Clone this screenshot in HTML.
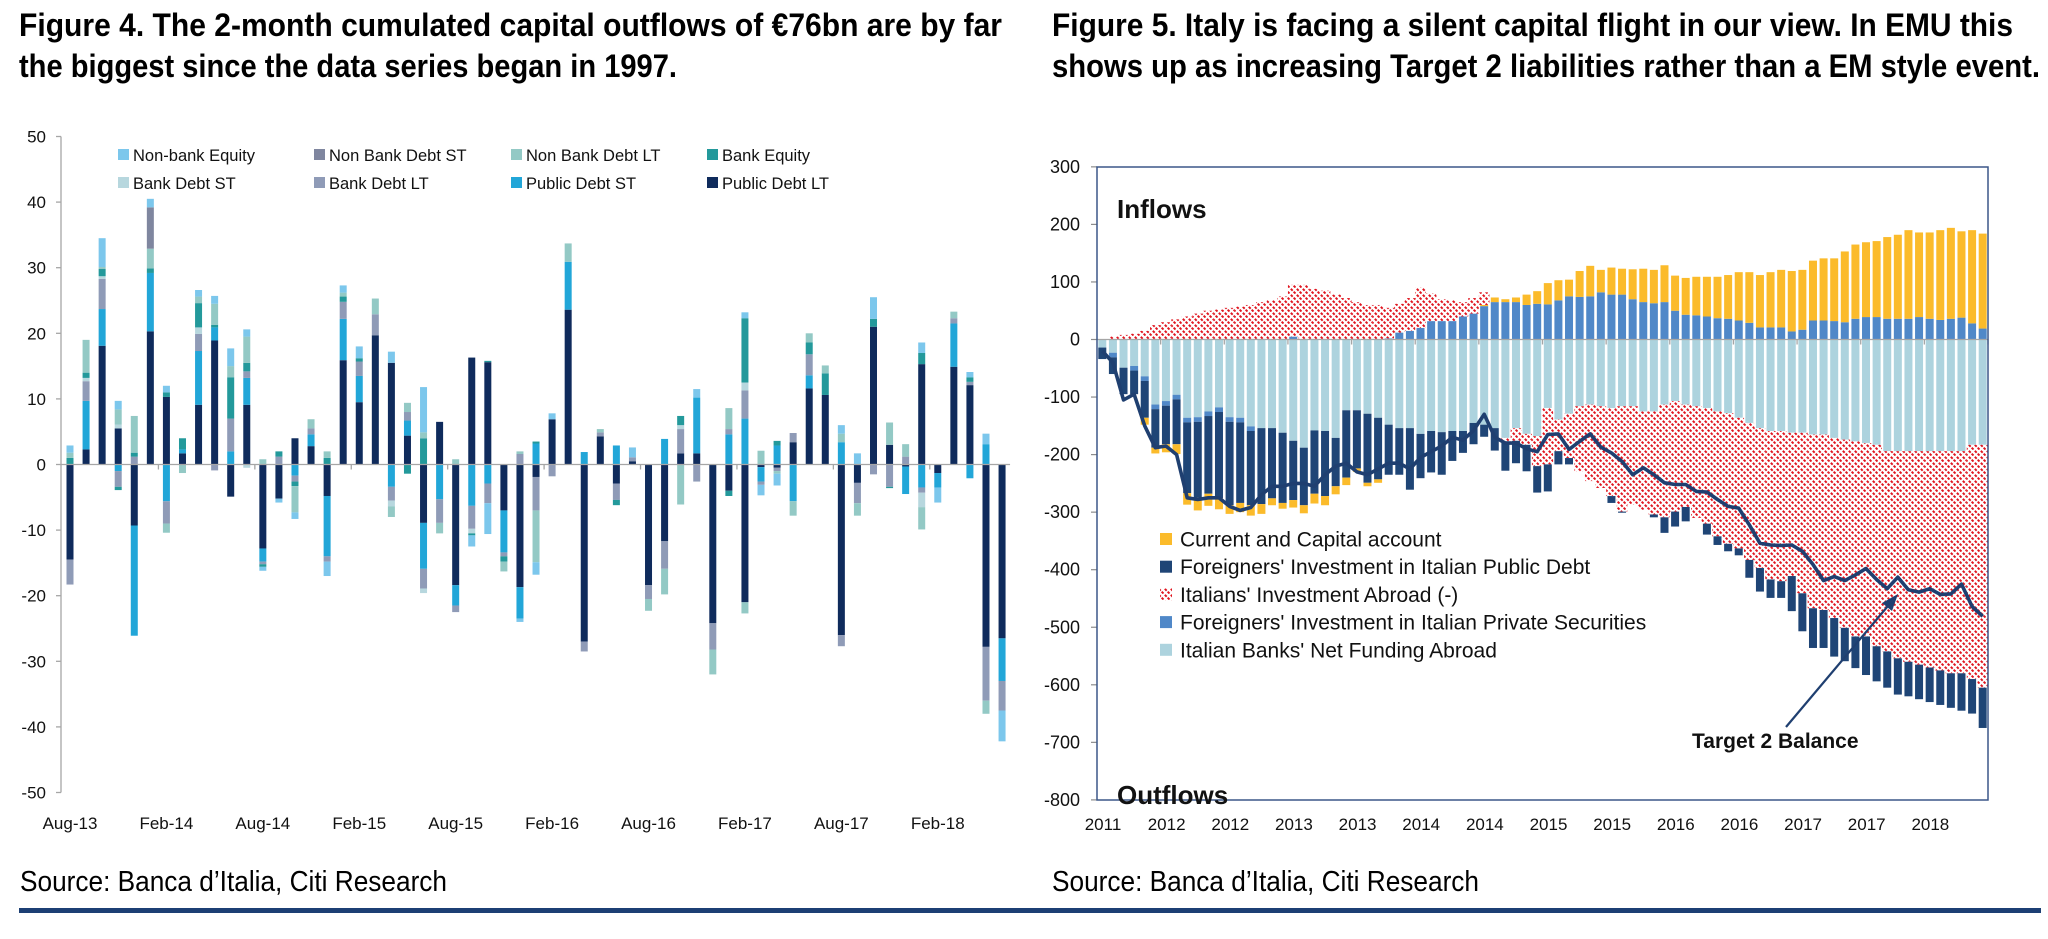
<!DOCTYPE html>
<html><head><meta charset="utf-8"><title>Italy capital flows</title>
<style>
html,body{margin:0;padding:0;background:#fff;}
svg{display:block;font-family:"Liberation Sans",Arial,sans-serif;}
</style></head>
<body>
<svg id="root" width="2048" height="939" viewBox="0 0 2048 939" xmlns="http://www.w3.org/2000/svg">
<defs>
<pattern id="hatch" patternUnits="userSpaceOnUse" width="6" height="6">
<rect width="6" height="6" fill="#fff"/>
<path d="M-2,-2 L8,8" stroke="#e0151f" stroke-width="2" stroke-dasharray="2.6 1.4"/>
</pattern>
</defs>
<rect width="2048" height="939" fill="#fff"/>
<text x="19" y="36" font-size="32" font-weight="bold" textLength="983" lengthAdjust="spacingAndGlyphs">Figure 4. The 2-month cumulated capital outflows of €76bn are by far</text>
<text x="19" y="77" font-size="32" font-weight="bold" textLength="658" lengthAdjust="spacingAndGlyphs">the biggest since the data series began in 1997.</text>
<text x="1052" y="36" font-size="32" font-weight="bold" textLength="961" lengthAdjust="spacingAndGlyphs">Figure 5. Italy is facing a silent capital flight in our view.  In EMU this</text>
<text x="1052" y="77" font-size="32" font-weight="bold" textLength="988" lengthAdjust="spacingAndGlyphs">shows up as increasing Target 2 liabilities rather than a EM style event.</text>
<text x="20" y="891" font-size="29" textLength="427" lengthAdjust="spacingAndGlyphs">Source: Banca d’Italia, Citi Research</text>
<text x="1052" y="891" font-size="29" textLength="427" lengthAdjust="spacingAndGlyphs">Source: Banca d’Italia, Citi Research</text>
<rect x="19" y="908" width="2022" height="5" fill="#1c3f74"/>
<g id="left"></g>
<g id="right"></g>
</svg>
<script>
// ---------- LEFT CHART DATA ----------
const leftTickLabels = ["Aug-13","Feb-14","Aug-14","Feb-15","Aug-15","Feb-16","Aug-16","Feb-17","Aug-17","Feb-18"];
const leftYTicks = [50,40,30,20,10,0,-10,-20,-30,-40,-50];
const publicDebtLT = [-14.5,2.3,18.1,5.5,-9.3,20.3,10.3,1.7,9.1,18.9,-4.9,9.1,-12.8,-5.2,4,2.8,-4.8,15.9,9.5,19.7,15.5,4.4,-8.9,6.5,-18.4,16.3,15.6,-7,-18.7,-1.9,6.9,23.6,-27,4.3,-2.9,0.5,-18.4,-11.7,1.7,1.7,-24.2,-4,-21,-0.4,-0.5,3.4,11.6,10.6,-26,-2.8,21,3,-0.3,15.3,-1.3,14.9,12.1,-27.8,-26.5];
const publicDebtST = [0,7.4,5.6,-1,-16.8,8.9,-5.6,0.6,8.2,2,2,4.1,-2,0,-1.7,1.8,-9.2,6.3,4,0,-3.4,2.3,-7,-5.3,-3.1,-6.3,-2.9,-6.4,-4.8,3.2,0,7.3,1.9,0,2.9,0,0,3.9,0,8.5,0,4.6,7,-2.2,2.9,-5.6,2,0,3.4,0,0,0,-4.2,-3.5,-2.2,6.6,-2.1,3.1,-6.5];
const bankDebtLT = [-3.8,3,4.6,-2.4,1.2,0,-3.4,0,2.6,-0.9,5,1,-0.4,1.2,-0.9,0.9,-0.8,2.6,2.2,3.2,-2.1,1.3,-3,-3.6,-1,-3.5,-3,-0.6,1.6,-5.1,-1.8,0,-1.5,0.6,-2.5,0.6,-2.1,-4.2,3.7,-2.6,-4,0.8,4.3,-0.5,-0.5,1.4,3.2,0,-1.7,-3.1,-1.5,-3.4,1.2,-0.8,0,0.8,0.5,-8.2,-4.5];
const bankDebtST = [0,0.5,0.4,0.6,0,0,0,0,1,0,0,-0.5,0,0,0,0,0,0,0,0,-0.9,0,-0.7,0,0,-0.7,0,0,0,0,0,0,0,0,0,0,0,0,0.6,0,0,0,1.2,0,0,0,0,0,0,0,0,0,0,-2.2,0,0,0,0,0];
const bankEquity = [1,0.8,1.1,-0.5,0.6,0.7,0.7,1.7,3.7,0.4,6.3,1.3,-0.4,0.8,-0.7,0,1,0.8,0.5,0,0,-1.4,4,0,0,-0.3,0.2,-0.8,0,0.3,0,0,0,0,-0.8,0,0,0,1.4,0,0,-0.8,9.8,0,0.7,0,1.8,3.3,0,0,1.2,-0.2,0,1.7,0,0,0.7,0,0];
const nonBankDebtLT = [0.8,5,0.3,2.3,5.6,3,-1.4,-1.3,1,3.2,1.7,4,0.8,0,-4,1.4,1,0.6,0,2.4,-1.6,1.4,0.9,-1.6,0.8,0,0,-1.5,0.4,-7.9,0,2.8,0,0.5,0,0,-1.8,-3.9,-6.1,0,-3.8,3.2,-1.7,2.1,-0.4,-2.2,1.4,1.2,1.3,-1.9,0,3.4,1.9,-3.4,0,1,0,-2,0];
const nonBankDebtST = [0,0,0,0,0,6.3,0,0,0,0,0,0,0,0,0,0,0,0,0,0,0,0,0,0,0,0,0,0,0,0,0,0,0,0,0,0,0,0,0,0,0,0,0,0,0,0,0,0,0,0,0,0,0,0,0,0,0,0,0];
const nonBankEquity = [1.1,0,4.4,1.3,0,1.3,1,0,1,1.2,2.7,1.1,-0.6,-0.6,-1,0,-2.2,1.1,1.8,0,1.7,0,6.9,0,0,-1.7,-4.7,0,-0.5,-1.9,0.9,0,0,0,0,1.5,0,0,0,1.3,0,0,0.9,-1.6,-1.8,0,0,0,1.3,1.7,3.3,0,0,1.6,-2.3,0,0.8,1.6,-4.7];

// ---------- RIGHT CHART DATA ----------
const rightTickLabels = ["2011","2012","2012","2013","2013","2014","2014","2015","2015","2016","2016","2017","2017","2018"];
const rightYTicks = [300,200,100,0,-100,-200,-300,-400,-500,-600,-700,-800];
const banksFunding = [-14,-23,-49,-46,-64,-113,-107,-96,-136,-135,-125,-118,-135,-136,-151,-154,-154,-162,-176,-188,-158,-159,-171,-123,-123,-129,-136,-148,-154,-154,-164,-159,-161,-159,-159,-145,-148,-154,-171,-154,-164,-168,
 -119,-139,-129,-116,-113,-116,-119,-116,-116,-125,-125,-113,-107,-113,-116,-119,-125,-128,-136,-145,-154,-159,-159,-162,-162,-165,-165,-171,-174,-177,-180,-183,-194,-194,-194,-194,-194,-194,-194,-194,-183,-183];
const privateSec = [0,-8,0,-8,-8,-8,-8,-8,-8,-8,-8,-8,-8,-8,-8,0,0,0,5,0,0,0,0,0,0,0,0,2,12,15,20,32,32,32,40,45,58,65,65,65,60,62,
 61,68,75,74,75,82,78,78,70,65,63,65,50,43,42,40,37,36,33,29,21,21,21,14,17,33,33,32,30,36,39,39,36,36,36,39,36,34,36,38,28,19];
const italiansAbroad = [0,5,8,10,15,25,30,35,40,45,50,52,55,57,60,65,68,75,90,95,88,85,78,72,65,60,60,53,50,57,70,48,38,36,25,27,22,0,-6,-22,-19,-52,
 -98,-55,-77,-113,-133,-142,-153,-183,-171,-171,-179,-196,-192,-178,-194,-201,-217,-227,-227,-238,-243,-258,-261,-249,-279,-302,-305,-313,-327,-339,-336,-350,-348,-360,-366,-371,-376,-381,-386,-386,-407,-422];
const publicDebtForeign = [-20,-29,-46,-41,-64,-67,-67,-78,-123,-132,-135,-150,-145,-140,-129,-132,-122,-122,-103,-100,-110,-113,-84,-117,-101,-120,-107,-87,-81,-107,-77,-72,-74,-52,-38,-37,-21,-39,-51,-39,-46,-46,
 -47,-23,-11,0,0,0,-12,-2,0,0,-5,-27,-26,-25,0,-19,-15,-13,-12,-31,-41,-32,-29,-61,-66,-69,-66,-67,-58,-55,-67,-61,-63,-63,-60,-60,-60,-60,-60,-65,-60,-70];
const currentAccount = [0,0,0,0,-12,-10,-14,-17,-20,-22,-21,-19,-15,-16,-18,-17,-12,-10,-13,-14,-17,-16,-14,-13,-6,-6,-6,0,0,0,0,0,0,0,0,0,2,8,5,8,18,22,
 37,35,29,45,53,39,47,45,52,58,58,64,61,64,67,69,72,76,84,88,91,96,100,105,104,104,108,109,123,129,130,132,142,146,154,147,150,156,158,150,162,165];
const target2 = [-20,-40,-105,-95,-150,-188,-185,-200,-275,-278,-275,-275,-290,-297,-292,-270,-255,-255,-250,-250,-255,-235,-220,-215,-230,-235,-225,-215,-215,-225,-205,-195,-185,-170,-175,-158,-130,-170,-180,-180,-190,-195,
 -165,-164,-191,-177,-164,-187,-197,-212,-235,-223,-235,-249,-252,-252,-264,-265,-278,-290,-293,-322,-354,-357,-358,-357,-368,-391,-419,-412,-419,-409,-398,-417,-433,-413,-435,-439,-433,-443,-442,-425,-464,-481];

const NS = "http://www.w3.org/2000/svg";
function mk(tag, attrs, parent){ const e=document.createElementNS(NS,tag); for(const k in attrs) e.setAttribute(k,attrs[k]); parent.appendChild(e); return e; }

// ---------- LEFT CHART ----------
(function(){
 const g=document.getElementById('left');
 const x0=70, step=16.07, bw=7;
 const yL=v=>464.5 - v*6.56;
 const xL=i=>x0+step*i;
 const leg=[["Non-bank Equity","#7cc7ec",118,155],["Non Bank Debt ST","#7f869f",314,155],["Non Bank Debt LT","#93c9c5",511,155],["Bank Equity","#23999b",707,155],
  ["Bank Debt ST","#b7d7de",118,183],["Bank Debt LT","#8f9bb7",314,183],["Public Debt  ST","#22a6d8",511,183],["Public Debt  LT","#0f2b5c",707,183]];
 leg.forEach(l=>{
  const r=mk('rect',{x:l[2],y:l[3]-6,width:11,height:11,fill:l[1]},g);
  
  
  const t=mk('text',{x:l[2]+15,y:l[3]+6,'font-size':16.5,fill:'#111'},g); t.textContent=l[0];
  
  
 });
 const ax=mk('line',{x1:61,y1:yL(50),x2:61,y2:yL(-50),stroke:'#a6a6a6','stroke-width':1.3},g);
 
 
 leftYTicks.forEach(v=>{
  const tk=mk('line',{x1:56,y1:yL(v),x2:61,y2:yL(v),stroke:'#a6a6a6','stroke-width':1.3},g);
  
  
  const t=mk('text',{x:46,y:yL(v)+6,'font-size':17,'text-anchor':'end',fill:'#111'},g); t.textContent=v;
  
  
 });
 const series=[[publicDebtLT,"#0f2b5c"],[publicDebtST,"#22a6d8"],[bankDebtLT,"#8f9bb7"],[bankDebtST,"#b7d7de"],[bankEquity,"#23999b"],[nonBankDebtLT,"#93c9c5"],[nonBankDebtST,"#7f869f"],[nonBankEquity,"#7cc7ec"]];
 const n=publicDebtLT.length;
 for(let i=0;i<n;i++){
  let pos=0,neg=0;
  series.forEach(s=>{
   const v=s[0][i]; if(!v) return;
   let a,b; if(v>0){a=pos;b=pos+v;pos=b;} else {a=neg;b=neg+v;neg=b;}
   const y1=yL(Math.max(a,b)), y2=yL(Math.min(a,b));
   const r=mk('rect',{x:xL(i)-bw/2,y:y1,width:bw,height:Math.max(0.5,y2-y1),fill:s[1]},g);
   
   
  });
 }
 const zl=mk('line',{x1:61,y1:yL(0),x2:xL(n-1)+8,y2:yL(0),stroke:'#a6a6a6','stroke-width':1.3},g);
 
 
 leftTickLabels.forEach((lab,k)=>{
  const xt=xL(6*k)-8;
  if(k>0){ const tk=mk('line',{x1:xt,y1:yL(0),x2:xt,y2:yL(0)+5,stroke:'#a6a6a6','stroke-width':1.3},g);
   
    }
  const t=mk('text',{x:xL(6*k),y:829,'font-size':17,'text-anchor':'middle',fill:'#111'},g); t.textContent=lab;
  
  
 });
})();

// ---------- RIGHT CHART ----------
(function(){
 const g=document.getElementById('right');
 const L=1097,R=1988,T=167,B=800;
 const step=(R-L)/84, bw=8;
 const xR=i=>L+step*(i+0.5);
 const yR=v=>339.5 - v*0.5755;
 rightYTicks.forEach(v=>{
  const tk=mk('line',{x1:1091,y1:yR(v),x2:L,y2:yR(v),stroke:'#8c8c8c','stroke-width':1.2},g);
  
  
  const t=mk('text',{x:1080,y:yR(v)+6,'font-size':18,'text-anchor':'end',fill:'#111'},g); t.textContent=v;
  
  
 });
 const n=target2.length;
 const posOrder=[[privateSec,"#5088c8"],[currentAccount,"#fbbb2b"],[italiansAbroad,"url(#hatch)"]];
 const negOrder=[[banksFunding,"#add3de"],[privateSec,"#5088c8"],[italiansAbroad,"url(#hatch)"],[publicDebtForeign,"#1f4576"],[currentAccount,"#fbbb2b"]];
 for(let i=0;i<n;i++){
  let pos=0,neg=0;
  posOrder.forEach(s=>{ const v=s[0][i]; if(!(v>0)) return;
   const isHatch=s[1].indexOf('hatch')>=0;
   const r=mk('rect',{x:xR(i)-(isHatch?step/2:bw/2),y:yR(pos+v),width:isHatch?step:bw,height:v*0.5755,fill:s[1]},g);
   
   
   pos+=v; });
  negOrder.forEach(s=>{ const v=s[0][i]; if(!(v<0)) return;
   const isHatch=s[1].indexOf('hatch')>=0;
   const r=mk('rect',{x:xR(i)-(isHatch?step/2:bw/2),y:yR(neg),width:isHatch?step:bw,height:-v*0.5755,fill:s[1]},g);
   
   
   neg+=v; });
 }
 const zl=mk('line',{x1:L,y1:yR(0),x2:R,y2:yR(0),stroke:'#a6a6a6','stroke-width':1.3},g);
 
 
 rightTickLabels.forEach((lab,k)=>{
  const xt=L+step*6*(k+1);
  const tk=mk('line',{x1:xt,y1:yR(0),x2:xt,y2:yR(0)+5,stroke:'#a6a6a6','stroke-width':1.3},g);
  
  
  const t=mk('text',{x:L+step*6*k+6,y:830,'font-size':17,'text-anchor':'middle',fill:'#111'},g); t.textContent=lab;
  
  
 });
 const pts=target2.map((v,i)=>xR(i).toFixed(1)+','+yR(v).toFixed(1)).join(' ');
 const pl=mk('polyline',{points:pts,fill:'none',stroke:'#1f3f70','stroke-width':3.6,'stroke-linejoin':'round'},g);
 
 
 const bd=mk('rect',{x:L,y:T,width:R-L,height:B-T,fill:'none',stroke:'#3b5788','stroke-width':1.5},g);
 
 
 const t1=mk('text',{x:1117,y:218,'font-size':26,'font-weight':'bold',fill:'#111'},g); t1.textContent='Inflows';
 
 
 const t2=mk('text',{x:1117,y:804,'font-size':26,'font-weight':'bold',fill:'#111'},g); t2.textContent='Outflows';
 
 
 const t3=mk('text',{x:1692,y:748,'font-size':21,'font-weight':'bold',fill:'#111'},g); t3.textContent='Target 2 Balance';
 
 
 const ar=mk('line',{x1:1786,y1:727,x2:1893,y2:600,stroke:'#1f3f70','stroke-width':2.2},g);
 
 
 const ah=mk('polygon',{points:'1898,594 1882,603 1892,611',fill:'#1f3f70'},g);
 
 
 const leg=[["Current and Capital account","#fbbb2b"],["Foreigners' Investment in Italian Public Debt","#1f4576"],["Italians' Investment Abroad (-)","url(#hatch)"],["Foreigners' Investment in Italian Private Securities","#5088c8"],["Italian Banks' Net Funding Abroad","#add3de"]];
 leg.forEach((l,k)=>{
  const cy=539+27.7*k;
  const r=mk('rect',{x:1160,y:cy-6,width:12,height:12,fill:l[1]},g);
  
  
  const t=mk('text',{x:1180,y:cy+7.5,'font-size':21,fill:'#111'},g); t.textContent=l[0];
  
  
 });
})();
</script>
</body></html>
